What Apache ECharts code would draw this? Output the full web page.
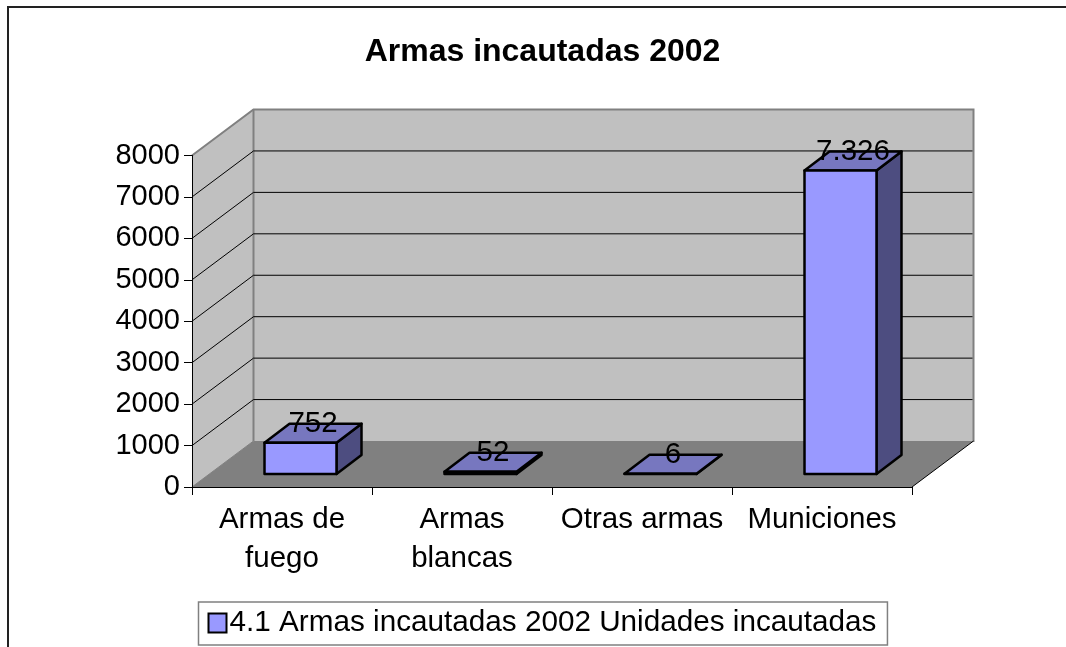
<!DOCTYPE html>
<html>
<head>
<meta charset="utf-8">
<style>html,body{margin:0;padding:0;background:#fff}#c{width:1066px;height:647px}</style>
<script src="https://cdn.jsdelivr.net/npm/echarts@6/dist/echarts.min.js"></script>
</head>
<body>
<div id="c"></div>
<script>
var titleText = 'Armas incautadas 2002';
var seriesName = '4.1 Armas incautadas 2002 Unidades incautadas';
var categories = ['Armas de\nfuego', 'Armas\nblancas', 'Otras armas', 'Municiones'];
var unidades = [752, 52, 6, 7326];
var valueLabels = ['752', '52', '6', '7.326'];
var gridValues = [1000, 2000, 3000, 4000, 5000, 6000, 7000];

var FONT = '"Liberation Sans", Arial, sans-serif';
var WALL_DX = 61.5, WALL_DY = 46;   // depth of the 3D box
var BAR_OFF_X = 18.5, BAR_OFF_Y = 13; // bar's front plane inside the box
var BAR_DX = 25, BAR_DY = 19;       // depth of each bar
var BAR_HALF = 36;

function renderWalls(params, api) {
  var o = api.coord([0, 0]), t = api.coord([0, 8000]);
  var slot = api.size([1, 0])[0];
  var x0 = o[0] - slot / 2, y0 = o[1], yT = t[1], x1 = x0 + slot * 4;
  var bx0 = x0 + WALL_DX, bx1 = x1 + WALL_DX, by0 = y0 - WALL_DY, byT = yT - WALL_DY;
  return { type: 'group', children: [
    { type: 'polygon', shape: { points: [[x0, yT], [bx0, byT], [bx0, by0], [x0, y0]] },
      style: { fill: '#c0c0c0', stroke: null } },
    { type: 'polygon', shape: { points: [[bx0, byT], [bx1, byT], [bx1, by0], [bx0, by0]] },
      style: { fill: '#c0c0c0', stroke: null } },
    { type: 'polygon', shape: { points: [[x0, y0], [bx0, by0], [bx1, by0], [x1, y0]] },
      style: { fill: '#808080', stroke: null } },
    { type: 'polyline', shape: { points: [[x0, yT], [bx0, byT], [bx1, byT], [bx1, by0 + 1]] },
      style: { fill: null, stroke: '#808080', lineWidth: 2 } },
    { type: 'line', shape: { x1: bx0, y1: byT, x2: bx0, y2: by0 },
      style: { stroke: '#808080', lineWidth: 2 } },
    { type: 'line', shape: { x1: x0, y1: y0, x2: bx0, y2: by0 },
      style: { stroke: '#808080', lineWidth: 1 } },
    { type: 'line', shape: { x1: x1, y1: y0, x2: bx1, y2: by0 },
      style: { stroke: '#000', lineWidth: 1 } }
  ] };
}

function renderGrid(params, api) {
  var o = api.coord([0, api.value(0)]);
  var slot = api.size([1, 0])[0];
  var x0 = o[0] - slot / 2, y = o[1];
  return { type: 'polyline', shape: { points: [[x0, y], [x0 + WALL_DX, y - WALL_DY], [x0 + slot * 4 + WALL_DX - 1, y - WALL_DY]] },
    style: { fill: null, stroke: '#000', lineWidth: 1 } };
}

function renderBar(params, api) {
  var i = api.value(0), v = api.value(1);
  var base = api.coord([i, 0]), top = api.coord([i, v]);
  var l = base[0] + BAR_OFF_X - BAR_HALF, r = base[0] + BAR_OFF_X + BAR_HALF;
  var b = base[1] - BAR_OFF_Y, t = top[1] - BAR_OFF_Y;
  var line = { stroke: '#000', lineWidth: 2.5, lineJoin: 'round' };
  return { type: 'group', children: [
    { type: 'polygon', shape: { points: [[r, b], [r + BAR_DX, b - BAR_DY], [r + BAR_DX, t - BAR_DY], [r, t]] },
      style: Object.assign({ fill: '#4d4d80' }, line) },
    { type: 'polygon', shape: { points: [[l, t], [l + BAR_DX, t - BAR_DY], [r + BAR_DX, t - BAR_DY], [r, t]] },
      style: Object.assign({ fill: '#7777bf' }, line) },
    { type: 'rect', shape: { x: l, y: t, width: r - l, height: b - t },
      style: Object.assign({ fill: '#9999ff' }, line) },
    { type: 'text', x: (l + r) / 2 + BAR_DX / 2, y: t - 19,
      style: { text: valueLabels[i], fill: '#000', font: '29.5px ' + FONT, align: 'center', verticalAlign: 'middle' } }
  ] };
}

var chart = echarts.init(document.getElementById('c'), null, { renderer: 'canvas' });
chart.setOption({
  animation: false,
  backgroundColor: '#fff',
  title: { text: titleText, left: 537.5, top: 31, textAlign: 'center',
    textStyle: { fontFamily: FONT, fontWeight: 'bold', fontSize: 32, color: '#000' } },
  grid: { left: 192, right: 154, top: 155.5, bottom: 160 },
  legend: {
    left: 198.5, top: 602, orient: 'horizontal', padding: [6, 11, 7, 9],
    borderColor: '#808080', borderWidth: 1.5, backgroundColor: '#fff',
    itemWidth: 18, itemHeight: 19, itemGap: 0,
    textStyle: { fontFamily: FONT, fontSize: 29.7, color: '#000', padding: [5, 0, 0, -2] },
    data: [{ name: seriesName, icon: 'rect', itemStyle: { color: '#9999ff', borderColor: '#000', borderWidth: 2 } }]
  },
  xAxis: { type: 'category', data: categories, z: 5,
    axisLine: { lineStyle: { color: '#000', width: 1 } },
    axisTick: { show: true, alignWithLabel: false, length: 8, lineStyle: { color: '#000' } },
    axisLabel: { fontFamily: FONT, fontSize: 29.5, color: '#000', margin: 13, lineHeight: 39, interval: 0 }
  },
  yAxis: { type: 'value', min: 0, max: 8000, interval: 1000, z: 5,
    splitLine: { show: false },
    axisLine: { show: true, lineStyle: { color: '#000', width: 1 } },
    axisTick: { show: true, length: 8, lineStyle: { color: '#000' } },
    axisLabel: { fontFamily: FONT, fontSize: 29, color: '#000', margin: 12,
      formatter: function (v) { return String(v); } }
  },
  graphic: [{ type: 'polyline', silent: true, z: 10,
    shape: { points: [[8, 647], [8, 7], [1066, 7]] },
    style: { fill: null, stroke: '#222', lineWidth: 2 } }],
  series: [
    { type: 'custom', name: 'walls', coordinateSystem: 'cartesian2d', renderItem: renderWalls, data: [[0, 0]], z: 1, silent: true },
    { type: 'custom', name: 'gridlines', coordinateSystem: 'cartesian2d', renderItem: renderGrid,
      data: gridValues.map(function (v) { return [v]; }), encode: { y: 0 }, z: 2, silent: true },
    { type: 'custom', name: seriesName, coordinateSystem: 'cartesian2d', renderItem: renderBar,
      data: unidades.map(function (v, i) { return [i, v]; }), encode: { x: 0, y: 1 }, z: 3,
      itemStyle: { color: '#9999ff' } }
  ]
});
</script>
</body>
</html>
